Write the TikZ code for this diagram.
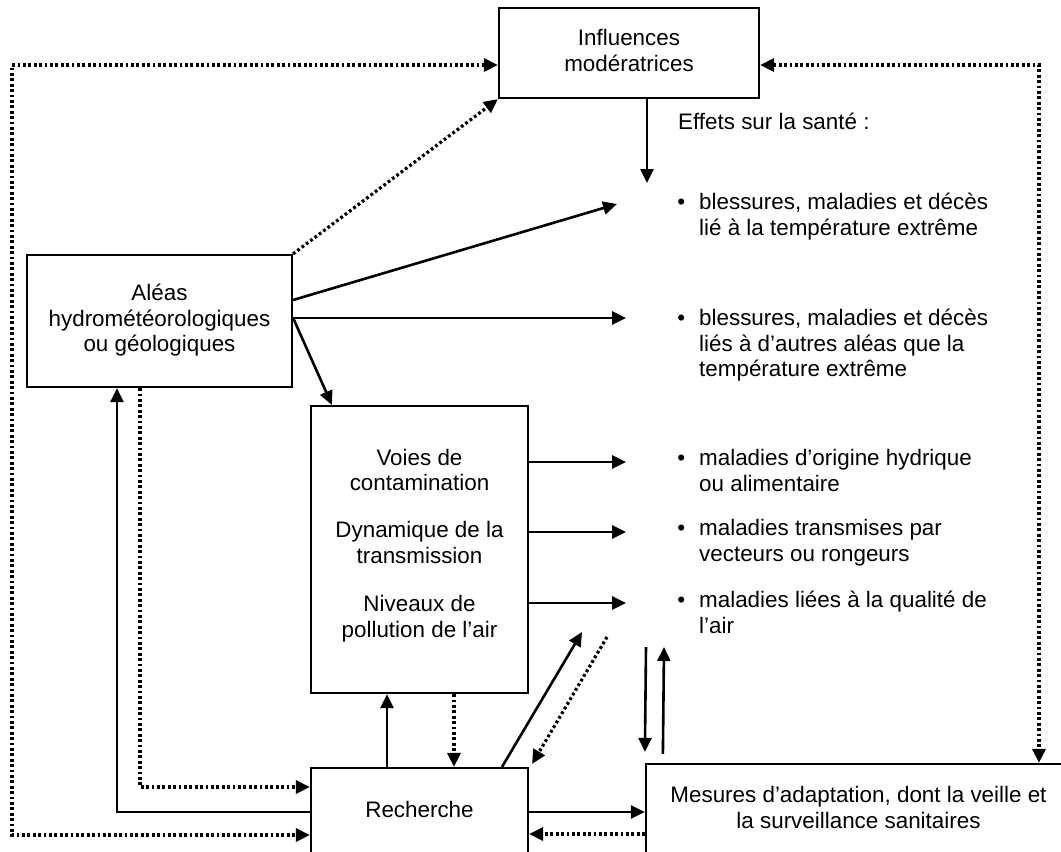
\documentclass[tikz,border=0pt]{standalone}
\usepackage{fontspec}
\setmainfont{Liberation Sans}
\usetikzlibrary{arrows.meta}
\tikzset{
  >={Triangle[length=14pt,width=13pt]},
  box/.style={draw, line width=2.2pt, inner sep=0pt},
  txt/.style={font=\fontsize{22.4pt}{25.8pt}\selectfont, inner sep=0pt, align=center},
  item/.style={txt, align=left, anchor=west},
  conn/.style={line width=2.6pt, ->},
  dconn/.style={line width=3.2pt, dash pattern=on 2.8pt off 2.6pt},
}
\newcommand{\bul}{\llap{•\hspace{14pt}}}
\begin{document}
\begin{tikzpicture}[x=1pt,y=-1pt]
\useasboundingbox (0,0) rectangle (1061,852);
\clip (0,0) rectangle (1061,852);

% boxes
\node[box, txt, minimum width=260pt, minimum height=90pt] (infl) at (629,53)
  {\strut Influences\\modératrices\strut};
\node[box, txt, minimum width=265pt, minimum height=132pt] (aleas) at (159.5,321)
  {\strut Aléas\\hydrométéorologiques\\ou géologiques\strut};
\node[box, minimum width=217pt, minimum height=287pt] (voies) at (419.5,549.5) {};
\node[txt] (voiestxt) at (419.5,546)
  {\strut Voies de\\contamination\\[21pt]Dynamique de la\\transmission\\[22pt]Niveaux de\\pollution de l’air\strut};
\node[box, txt, minimum width=217pt, minimum height=88pt] (rech) at (419.5,812)
  {\strut Recherche\strut};
\node[box, txt, minimum width=425pt, minimum height=92pt] (mes) at (858.5,810)
  {\strut Mesures d’adaptation, dont la veille et\\la surveillance sanitaires\strut};

% health effects text
\node[txt, anchor=west] (effets) at (678,124) {\strut Effets sur la santé :\strut};
\node[item] (b1) at (699,217) {\strut\bul blessures, maladies et décès\\lié à la température extrême\strut};
\node[item] (b2) at (699,346) {\strut\bul blessures, maladies et décès\\liés à d’autres aléas que la\\température extrême\strut};
\node[item] (b3) at (699,473) {\strut\bul maladies d’origine hydrique\\ou alimentaire\strut};
\node[item] (b4) at (699,543) {\strut\bul maladies transmises par\\vecteurs ou rongeurs\strut};
\node[item] (b5) at (699,615) {\strut\bul maladies liées à la qualité de\\l’air\strut};

% free connector ends
\coordinate (t0) at (647,183);
\coordinate (t1) at (617,204);
\coordinate (t2) at (626,318);
\coordinate (t3) at (626,462);
\coordinate (t4) at (626,532);
\coordinate (t5) at (626,603);
\coordinate (t6) at (582,632);
\coordinate (s7) at (607,637);
\coordinate (d1) at (646,647);
\coordinate (u1) at (664,647);
\coordinate (cL) at (12,835);
\coordinate (cR) at (1039,65);
\coordinate (m2) at ([yshift=-24pt]mes.west);

% dotted connectors
\draw[dconn, <->] ([yshift=-12pt]infl.west) -| (cL) -- ([yshift=-23pt]rech.west);
\draw[dconn, <->] ([yshift=-12pt]infl.east) -| (cR |- mes.north);
\draw[dconn, ->] (aleas.north east) -- (infl.south west);
\draw[dconn, ->] ([xshift=-19.5pt]aleas.south) |- ([yshift=25pt]rech.west);
\draw[dconn, ->] ([xshift=34.5pt]voies.south) -- ([xshift=34.5pt]rech.north);
\draw[dconn, ->] (s7) -- ([xshift=3pt,yshift=3pt]rech.north east);
\draw[dconn, ->] (m2) -- (m2 -| rech.east);

% solid connectors
\draw[conn] ([xshift=18pt]infl.south) -- (t0);
\draw[conn] ([yshift=21pt]aleas.east) -- (t1);
\draw[conn] ([yshift=3pt]aleas.east) -- (t2);
\draw[conn] ([yshift=3pt]aleas.east) -- ([xshift=22pt]voies.north west);
\draw[conn] (voies.east |- t3) -- (t3);
\draw[conn] (voies.east |- t4) -- (t4);
\draw[conn] (voies.east |- t5) -- (t5);
\draw[conn] ([xshift=-32.5pt]rech.north) -- ([xshift=-32.5pt]voies.south);
\draw[conn] ([xshift=82.5pt]rech.north) -- (t6);
\draw[conn] (rech.west) -| ([xshift=-42.5pt]aleas.south);
\draw[conn] (rech.east) -- (rech.east -| mes.west);
\draw[conn] (d1) -- ([yshift=11pt]mes.north west);
\draw[conn] ([xshift=18pt,yshift=9pt]mes.north west) -- (u1);
\end{tikzpicture}
\end{document}
